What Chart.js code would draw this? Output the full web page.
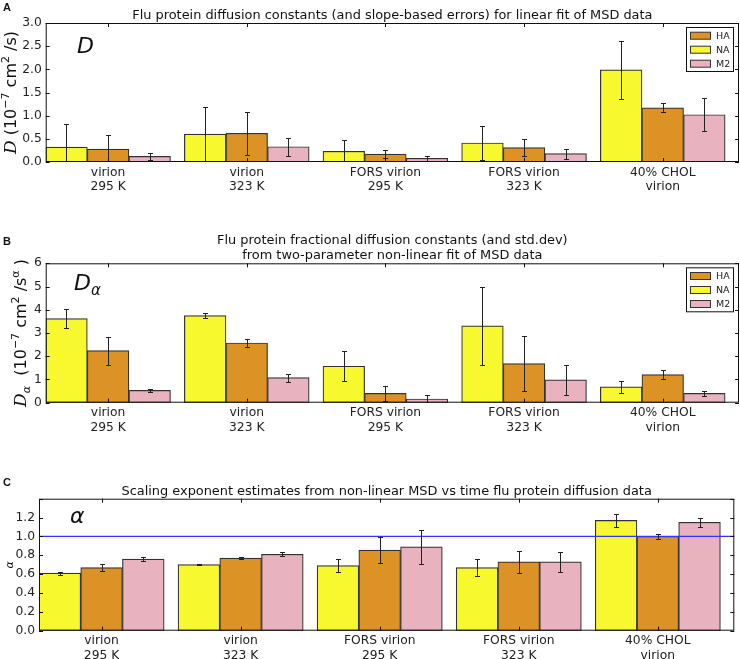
<!DOCTYPE html>
<html>
<head>
<meta charset="utf-8">
<script src="https://cdn.jsdelivr.net/npm/chart.js@4.4.1/dist/chart.umd.min.js"></script>
<style>
  body { margin: 0; background: #fff; width: 740px; height: 659px; position: relative; overflow: hidden; }
  canvas { position: absolute; left: 0; }
</style>
</head>
<body>
<canvas id="chartA" width="740" height="200" style="top:0px"></canvas>
<canvas id="chartB" width="740" height="240" style="top:200px"></canvas>
<canvas id="chartC" width="740" height="219" style="top:440px"></canvas>
<script>
// categories (two-line tick labels)
const groups = [['virion', '295 K'], ['virion', '323 K'], ['FORS virion', '295 K'], ['FORS virion', '323 K'], ['40% CHOL', 'virion']];
// bar order inside a group, and legend order
const proteins = ['NA', 'HA', 'M2'];
const legendOrder = ['HA', 'NA', 'M2'];
const colors = { NA: '#f8f82f', HA: '#dd9226', M2: '#e8b3bf' };

// A: D, linear fit (10^-7 cm^2/s)
const dNA = [0.32, 0.60, 0.23, 0.41, 1.99];
const dNAerr = [0.50, 0.58, 0.25, 0.36, 0.63];
const dHA = [0.28, 0.62, 0.17, 0.31, 1.17];
const dHAerr = [0.31, 0.46, 0.09, 0.19, 0.10];
const dM2 = [0.12, 0.33, 0.08, 0.18, 1.02];
const dM2err = [0.07, 0.19, 0.06, 0.11, 0.36];

// B: D_alpha, non-linear fit
const daNA = [3.62, 3.75, 1.57, 3.31, 0.68];
const daNAerr = [0.40, 0.10, 0.64, 1.69, 0.26];
const daHA = [2.24, 2.57, 0.40, 1.68, 1.21];
const daHAerr = [0.60, 0.17, 0.32, 1.18, 0.19];
const daM2 = [0.53, 1.08, 0.16, 0.98, 0.40];
const daM2err = [0.07, 0.17, 0.18, 0.64, 0.10];

// C: alpha
const aNA = [0.61, 0.70, 0.69, 0.67, 1.17];
const aNAerr = [0.015, 0.005, 0.07, 0.09, 0.065];
const aHA = [0.67, 0.77, 0.855, 0.73, 1.00];
const aHAerr = [0.04, 0.007, 0.135, 0.12, 0.025];
const aM2 = [0.76, 0.81, 0.89, 0.73, 1.15];
const aM2err = [0.02, 0.02, 0.18, 0.11, 0.045];
const alphaRef = 1.0;

const barW = 0.3;
const FONT = 'DejaVu Sans';
Chart.defaults.font.family = FONT;
Chart.defaults.color = '#222';

// draws text runs (mixed fonts / super- and subscripts) starting at x,y
function runs(ctx, list, x, y, measureOnly) {
  let w = 0;
  list.forEach(r => {
    ctx.font = r.f;
    if (!measureOnly) ctx.fillText(r.t, x + w, y + (r.dy || 0));
    w += ctx.measureText(r.t).width;
  });
  return w;
}

const decor = {
  id: 'decor',
  afterDatasetsDraw(chart, args, o) {
    const { ctx, chartArea: a, scales: { y } } = chart;
    ctx.save();
    ctx.beginPath();
    ctx.rect(a.left, a.top, a.right - a.left, a.bottom - a.top);
    ctx.clip();
    if (o.refLine != null) {
      const yy = y.getPixelForValue(o.refLine);
      ctx.strokeStyle = '#3434ff';
      ctx.lineWidth = 1.2;
      ctx.beginPath(); ctx.moveTo(a.left, yy); ctx.lineTo(a.right, yy); ctx.stroke();
    }
    ctx.strokeStyle = '#222';
    ctx.lineWidth = 1;
    chart.data.datasets.forEach((ds, di) => {
      chart.getDatasetMeta(di).data.forEach((bar, i) => {
        const v = ds.data[i].y, e = ds.err[i];
        const y1 = Math.round(y.getPixelForValue(v - e)) + 0.5;
        const y2 = Math.round(y.getPixelForValue(v + e)) + 0.5;
        const x = Math.round(bar.x) + 0.5;
        ctx.beginPath();
        ctx.moveTo(x, y1); ctx.lineTo(x, y2);
        ctx.moveTo(x - 2.5, y1); ctx.lineTo(x + 2.5, y1);
        ctx.moveTo(x - 2.5, y2); ctx.lineTo(x + 2.5, y2);
        ctx.stroke();
      });
    });
    ctx.restore();
  },
  afterDraw(chart, args, o) {
    const { ctx, chartArea: a, scales: { x, y } } = chart;
    ctx.save();
    // frame with inward ticks
    ctx.strokeStyle = '#111';
    ctx.lineWidth = 1;
    ctx.strokeRect(a.left + 0.5, a.top + 0.5, a.right - a.left - 1, a.bottom - a.top - 1);
    ctx.beginPath();
    y.ticks.forEach(t => {
      const yy = Math.round(y.getPixelForValue(t.value)) + 0.5;
      ctx.moveTo(a.left, yy); ctx.lineTo(a.left + 4, yy);
      ctx.moveTo(a.right, yy); ctx.lineTo(a.right - 4, yy);
    });
    x.ticks.forEach(t => {
      const xx = Math.round(x.getPixelForValue(t.value)) + 0.5;
      ctx.moveTo(xx, a.bottom); ctx.lineTo(xx, a.bottom - 4);
      ctx.moveTo(xx, a.top); ctx.lineTo(xx, a.top + 4);
    });
    ctx.stroke();

    ctx.fillStyle = '#111';
    ctx.textBaseline = 'alphabetic';
    // panel letter
    ctx.font = 'bold 11px "Liberation Sans"';
    ctx.textAlign = 'left';
    ctx.fillText(o.letter, 3, o.letterY);
    // title lines
    ctx.font = '12.9px ' + FONT;
    ctx.textAlign = 'center';
    o.title.forEach((line, i) => ctx.fillText(line, (a.left + a.right) / 2, o.titleY + i * 15));
    // symbol in plot
    ctx.textAlign = 'left';
    runs(ctx, o.symbol, o.symX, o.symY);
    // rotated axis title
    ctx.save();
    ctx.translate(o.ylabX, (a.top + a.bottom) / 2);
    ctx.rotate(-Math.PI / 2);
    const w = runs(ctx, o.ylab, 0, 0, true);
    runs(ctx, o.ylab, -w / 2, 0);
    ctx.restore();
    // legend box
    if (o.legend) {
      const bw = 47, bh = 44;
      const bx = a.right - 6 - bw, by = a.top + 4;
      ctx.fillStyle = '#fff';
      ctx.fillRect(bx, by, bw, bh);
      ctx.strokeStyle = '#111';
      ctx.strokeRect(bx + 0.5, by + 0.5, bw, bh);
      ctx.font = '9.5px ' + FONT;
      ctx.textBaseline = 'middle';
      legendOrder.forEach((p, i) => {
        const ry = by + 8.7 + i * 14;
        ctx.fillStyle = colors[p];
        ctx.fillRect(bx + 4, ry - 3.5, 20, 7);
        ctx.strokeStyle = '#333';
        ctx.strokeRect(bx + 4.5, ry - 3.5, 20, 7);
        ctx.fillStyle = '#222';
        ctx.fillText(p, bx + 30, ry + 0.5);
      });
    }
    ctx.restore();
  }
};

function makeChart(id, series, errs, cfg) {
  const datasets = proteins.map((p, pi) => ({
    label: p,
    data: series[pi].map((v, g) => ({ x: g + pi * barW + barW / 2, y: v })),
    err: errs[pi],
    backgroundColor: colors[p],
    borderColor: '#333',
    borderWidth: 1.2,
    borderSkipped: false,
    grouped: false,
    barPercentage: 1,
    categoryPercentage: 1
  }));
  return new Chart(document.getElementById(id), {
    type: 'bar',
    data: { datasets },
    options: {
      responsive: false,
      animation: false,
      layout: { padding: { top: cfg.top, right: 740 - cfg.right, left: 0, bottom: 0 } },
      plugins: { legend: { display: false }, tooltip: { enabled: false }, decor: cfg },
      scales: {
        x: {
          type: 'linear', min: 0, max: groups.length, offset: false,
          grid: { display: false, drawTicks: false }, border: { display: false },
          afterBuildTicks: s => { s.ticks = groups.map((g, i) => ({ value: i + 1.5 * barW })); },
          afterFit: s => { s.height = cfg.xh; },
          ticks: {
            autoSkip: false, maxRotation: 0, padding: 3,
            font: { size: 12.3, lineHeight: 1.2 }, color: '#222',
            callback: v => groups[Math.round(v - 1.5 * barW)]
          }
        },
        y: {
          min: 0, max: cfg.ymax,
          grid: { display: false, drawTicks: false }, border: { display: false },
          afterFit: s => { s.width = cfg.left; },
          ticks: {
            stepSize: cfg.step, padding: 4,
            font: { size: 12.3 }, color: '#222',
            callback: v => (v > cfg.labelMax + 1e-6 ? '' : v.toFixed(cfg.dec))
          }
        }
      }
    },
    plugins: [decor]
  });
}

const sup = (t) => ({ t, f: '11px ' + FONT, dy: -7 });
const nrm = (t) => ({ t, f: '16px ' + FONT });

makeChart('chartA', [dNA, dHA, dM2], [dNAerr, dHAerr, dM2err], {
  top: 23, right: 739, left: 45.7, xh: 38, ymax: 3, step: 0.5, dec: 1, labelMax: 3,
  letter: 'A', letterY: 11,
  title: ['Flu protein diffusion constants (and slope-based errors) for linear fit of MSD data'], titleY: 19,
  symbol: [{ t: 'D', f: 'oblique 22px ' + FONT }], symX: 77, symY: 53,
  ylabX: 16,
  ylab: [{ t: 'D', f: 'italic 17px "DejaVu Serif"' }, nrm(' (10'), sup('\u22127'), nrm(' cm'), sup('2'), nrm(' /s)')],
  legend: true
});

makeChart('chartB', [daNA, daHA, daM2], [daNAerr, daHAerr, daM2err], {
  top: 63.3, right: 739, left: 45.7, xh: 37.3, ymax: 6, step: 1, dec: 0, labelMax: 6,
  letter: 'B', letterY: 45,
  title: ['Flu protein fractional diffusion constants (and std.dev)', 'from two-parameter non-linear fit of MSD data'], titleY: 44,
  symbol: [{ t: 'D', f: 'oblique 22px ' + FONT }, { t: '\u03b1', f: 'oblique 15px ' + FONT, dy: 5 }], symX: 74, symY: 90,
  ylabX: 26,
  ylab: [{ t: 'D', f: 'italic 17px "DejaVu Serif"' }, { t: '\u03b1', f: 'italic 11px "DejaVu Serif"', dy: 4 }, nrm('  (10'), sup('\u22127'), nrm(' cm'), sup('2'), nrm(' /s'), sup('\u03b1'), nrm(' )')],
  legend: true
});

makeChart('chartC', [aNA, aHA, aM2], [aNAerr, aHAerr, aM2err], {
  top: 58.7, right: 734.3, left: 39, xh: 28.3, ymax: 1.4, step: 0.2, dec: 1, labelMax: 1.2,
  letter: 'C', letterY: 46,
  title: ['Scaling exponent estimates from non-linear MSD vs time flu protein diffusion data'], titleY: 55,
  symbol: [{ t: '\u03b1', f: 'oblique 22px ' + FONT }], symX: 70, symY: 83,
  ylabX: 13,
  ylab: [{ t: '\u03b1', f: 'italic 11px "DejaVu Serif"' }],
  legend: false,
  refLine: alphaRef
});
</script>
</body>
</html>
